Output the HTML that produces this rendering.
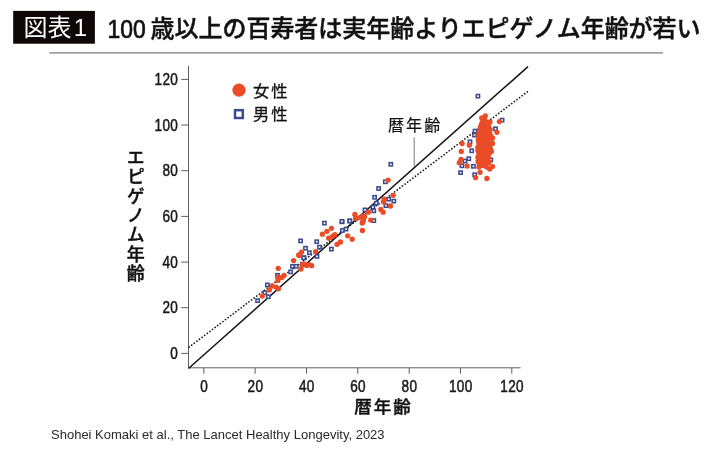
<!DOCTYPE html>
<html lang="ja">
<head>
<meta charset="utf-8">
<title>図表1 100歳以上の百寿者は実年齢よりエピゲノム年齢が若い</title>
<style>
html,body{margin:0;padding:0;background:#fff;}
body{width:710px;height:449px;overflow:hidden;position:relative;}
svg{position:absolute;left:0;top:0;display:block;}
text{font-family:"Liberation Sans","Noto Sans CJK JP",sans-serif;}
.jp{font-family:"Liberation Sans","Noto Sans CJK JP",sans-serif;}
.tick{font-size:15.8px;fill:#1a1a1a;stroke:#1a1a1a;stroke-width:0.5px;}
</style>
</head>
<body>
<svg width="710" height="449" viewBox="0 0 710 449">
<rect x="0" y="0" width="710" height="449" fill="#ffffff"/>
<!-- header -->
<rect x="13.2" y="10.9" width="81.7" height="32.8" fill="#0f0707"/>
<text x="23.6" y="36.3" font-size="24" fill="#ffffff" class="jp">図表<tspan dx="2.2">1</tspan></text>
<text x="107.6" y="38" font-size="25" font-weight="400" fill="#111111" stroke="#111111" stroke-width="0.7" class="jp" textLength="38.2" lengthAdjust="spacingAndGlyphs">100</text>
<text x="150.6" y="37.1" font-size="24" font-weight="500" fill="#111111" stroke="#111111" stroke-width="0.45" letter-spacing="-0.04" class="jp">歳以上の百寿者は実年齢よりエピゲノム年齢が若い</text>
<rect x="49.3" y="52.2" width="613.7" height="1.35" fill="#858585"/>

<g stroke="#4d4d4d" stroke-width="0.9" fill="none">
<path d="M188.5 66 V367.8 H520.6"/>
<path d="M181.2 353.4 H188.5"/>
<path d="M203.8 367.8 V373.8"/>
<path d="M181.2 307.7 H188.5"/>
<path d="M255.1 367.8 V373.8"/>
<path d="M181.2 262.1 H188.5"/>
<path d="M306.5 367.8 V373.8"/>
<path d="M181.2 216.4 H188.5"/>
<path d="M357.8 367.8 V373.8"/>
<path d="M181.2 170.7 H188.5"/>
<path d="M409.2 367.8 V373.8"/>
<path d="M181.2 125.0 H188.5"/>
<path d="M460.5 367.8 V373.8"/>
<path d="M181.2 79.4 H188.5"/>
<path d="M511.8 367.8 V373.8"/>
</g>
<text class="tick" transform="translate(178.2,359.1) scale(0.86,1)" text-anchor="end" letter-spacing="0.4">0</text>
<text class="tick" transform="translate(178.2,313.4) scale(0.86,1)" text-anchor="end" letter-spacing="0.4">20</text>
<text class="tick" transform="translate(178.2,267.8) scale(0.86,1)" text-anchor="end" letter-spacing="0.4">40</text>
<text class="tick" transform="translate(178.2,222.1) scale(0.86,1)" text-anchor="end" letter-spacing="0.4">60</text>
<text class="tick" transform="translate(178.2,176.4) scale(0.86,1)" text-anchor="end" letter-spacing="0.4">80</text>
<text class="tick" transform="translate(178.2,130.7) scale(0.86,1)" text-anchor="end" letter-spacing="0.4">100</text>
<text class="tick" transform="translate(178.2,85.1) scale(0.86,1)" text-anchor="end" letter-spacing="0.4">120</text>
<text class="tick" transform="translate(204.1,392.3) scale(0.86,1)" text-anchor="middle" letter-spacing="0.4">0</text>
<text class="tick" transform="translate(255.4,392.3) scale(0.86,1)" text-anchor="middle" letter-spacing="0.4">20</text>
<text class="tick" transform="translate(306.8,392.3) scale(0.86,1)" text-anchor="middle" letter-spacing="0.4">40</text>
<text class="tick" transform="translate(358.1,392.3) scale(0.86,1)" text-anchor="middle" letter-spacing="0.4">60</text>
<text class="tick" transform="translate(409.5,392.3) scale(0.86,1)" text-anchor="middle" letter-spacing="0.4">80</text>
<text class="tick" transform="translate(460.8,392.3) scale(0.86,1)" text-anchor="middle" letter-spacing="0.4">100</text>
<text class="tick" transform="translate(512.1,392.3) scale(0.86,1)" text-anchor="middle" letter-spacing="0.4">120</text>
<path d="M188.5 368.5 L528 66.6" stroke="#111" stroke-width="1.5" fill="none"/>
<path d="M189.1 347.1 L527.6 91.6" stroke="#111" stroke-width="1.7" stroke-linecap="round" stroke-dasharray="0.01 3.25" fill="none"/>
<path d="M414.2 137.3 V166.5" stroke="#555" stroke-width="0.8" fill="none"/>
<g fill="#fff" stroke="#3c4b8f" stroke-width="1.55">
<rect x="255.98" y="298.98" width="3.25" height="3.25"/>
<rect x="266.68" y="295.08" width="3.25" height="3.25"/>
<rect x="263.28" y="291.08" width="3.25" height="3.25"/>
<rect x="265.78" y="283.28" width="3.25" height="3.25"/>
<rect x="275.88" y="273.68" width="3.25" height="3.25"/>
<rect x="288.98" y="270.28" width="3.25" height="3.25"/>
<rect x="290.88" y="264.68" width="3.25" height="3.25"/>
<rect x="294.58" y="264.68" width="3.25" height="3.25"/>
<rect x="302.38" y="256.18" width="3.25" height="3.25"/>
<rect x="315.38" y="254.78" width="3.25" height="3.25"/>
<rect x="298.98" y="239.28" width="3.25" height="3.25"/>
<rect x="303.88" y="246.58" width="3.25" height="3.25"/>
<rect x="307.78" y="251.08" width="3.25" height="3.25"/>
<rect x="302.18" y="256.18" width="3.25" height="3.25"/>
<rect x="315.08" y="240.08" width="3.25" height="3.25"/>
<rect x="317.88" y="245.48" width="3.25" height="3.25"/>
<rect x="322.78" y="221.48" width="3.25" height="3.25"/>
<rect x="329.78" y="247.48" width="3.25" height="3.25"/>
<rect x="340.48" y="220.18" width="3.25" height="3.25"/>
<rect x="340.78" y="228.88" width="3.25" height="3.25"/>
<rect x="344.38" y="227.48" width="3.25" height="3.25"/>
<rect x="348.08" y="219.28" width="3.25" height="3.25"/>
<rect x="383.68" y="180.18" width="3.25" height="3.25"/>
<rect x="376.98" y="186.88" width="3.25" height="3.25"/>
<rect x="372.98" y="195.68" width="3.25" height="3.25"/>
<rect x="374.68" y="201.58" width="3.25" height="3.25"/>
<rect x="371.28" y="205.48" width="3.25" height="3.25"/>
<rect x="363.38" y="208.28" width="3.25" height="3.25"/>
<rect x="372.18" y="209.18" width="3.25" height="3.25"/>
<rect x="372.18" y="218.98" width="3.25" height="3.25"/>
<rect x="387.08" y="197.58" width="3.25" height="3.25"/>
<rect x="392.18" y="199.48" width="3.25" height="3.25"/>
<rect x="384.28" y="203.98" width="3.25" height="3.25"/>
<rect x="340.28" y="219.78" width="3.25" height="3.25"/>
<rect x="348.18" y="219.38" width="3.25" height="3.25"/>
<rect x="472.88" y="133.48" width="3.25" height="3.25"/>
<rect x="473.38" y="129.48" width="3.25" height="3.25"/>
<rect x="468.38" y="140.18" width="3.25" height="3.25"/>
<rect x="470.08" y="149.18" width="3.25" height="3.25"/>
<rect x="467.18" y="157.08" width="3.25" height="3.25"/>
<rect x="463.28" y="159.38" width="3.25" height="3.25"/>
<rect x="460.28" y="164.18" width="3.25" height="3.25"/>
<rect x="471.78" y="164.68" width="3.25" height="3.25"/>
<rect x="458.98" y="170.98" width="3.25" height="3.25"/>
<rect x="473.08" y="173.18" width="3.25" height="3.25"/>
<rect x="489.18" y="158.28" width="3.25" height="3.25"/>
<rect x="500.48" y="118.48" width="3.25" height="3.25"/>
<rect x="493.88" y="127.18" width="3.25" height="3.25"/>
<rect x="476.28" y="94.48" width="3.25" height="3.25"/>
<rect x="389.18" y="162.68" width="3.25" height="3.25"/>
</g>
<g fill="#e94c27">
<circle cx="262.3" cy="296.1" r="2.65"/>
<circle cx="269.4" cy="289.9" r="2.65"/>
<circle cx="272.2" cy="286" r="2.65"/>
<circle cx="276.2" cy="287.1" r="2.65"/>
<circle cx="278.4" cy="288.8" r="2.65"/>
<circle cx="277.9" cy="280.4" r="2.65"/>
<circle cx="277.9" cy="277.5" r="2.65"/>
<circle cx="281.8" cy="277.5" r="2.65"/>
<circle cx="284.1" cy="275.3" r="2.65"/>
<circle cx="278.2" cy="268.3" r="2.65"/>
<circle cx="293.6" cy="260.6" r="2.65"/>
<circle cx="302.1" cy="265.1" r="2.65"/>
<circle cx="301" cy="269.1" r="2.65"/>
<circle cx="306.6" cy="265.4" r="2.65"/>
<circle cx="311.7" cy="265.7" r="2.65"/>
<circle cx="299.3" cy="255.6" r="2.65"/>
<circle cx="298.7" cy="255" r="2.65"/>
<circle cx="301.5" cy="252.2" r="2.65"/>
<circle cx="315.6" cy="251.6" r="2.65"/>
<circle cx="303.8" cy="264" r="2.65"/>
<circle cx="309.4" cy="264.6" r="2.65"/>
<circle cx="322.4" cy="234.2" r="2.65"/>
<circle cx="326.9" cy="231.3" r="2.65"/>
<circle cx="331.4" cy="228.3" r="2.65"/>
<circle cx="328.6" cy="238.1" r="2.65"/>
<circle cx="332.5" cy="236.4" r="2.65"/>
<circle cx="334.8" cy="234.7" r="2.65"/>
<circle cx="337" cy="244.3" r="2.65"/>
<circle cx="340.4" cy="242" r="2.65"/>
<circle cx="347.7" cy="235.8" r="2.65"/>
<circle cx="352.2" cy="239.2" r="2.65"/>
<circle cx="362.4" cy="230.5" r="2.65"/>
<circle cx="362.9" cy="221.8" r="2.65"/>
<circle cx="355.6" cy="218.4" r="2.65"/>
<circle cx="360.1" cy="217.3" r="2.65"/>
<circle cx="364.6" cy="216.7" r="2.65"/>
<circle cx="388.1" cy="180.1" r="2.65"/>
<circle cx="393.2" cy="195.3" r="2.65"/>
<circle cx="384.2" cy="199.2" r="2.65"/>
<circle cx="383.6" cy="202" r="2.65"/>
<circle cx="390.4" cy="206" r="2.65"/>
<circle cx="380.8" cy="209.4" r="2.65"/>
<circle cx="383.1" cy="212.2" r="2.65"/>
<circle cx="354.9" cy="214.4" r="2.65"/>
<circle cx="356" cy="218.4" r="2.65"/>
<circle cx="362.8" cy="216.1" r="2.65"/>
<circle cx="368.4" cy="212.2" r="2.65"/>
<circle cx="363.4" cy="220.1" r="2.65"/>
<circle cx="370.7" cy="220.1" r="2.65"/>
<circle cx="362.2" cy="222.9" r="2.65"/>
<circle cx="462.1" cy="143.5" r="2.65"/>
<circle cx="469.4" cy="145.2" r="2.65"/>
<circle cx="461.3" cy="151.4" r="2.65"/>
<circle cx="461" cy="159.3" r="2.65"/>
<circle cx="459.3" cy="162.7" r="2.65"/>
<circle cx="467.2" cy="166" r="2.65"/>
<circle cx="497" cy="132.3" r="2.65"/>
<circle cx="492.5" cy="137.9" r="2.65"/>
<circle cx="492.5" cy="143.5" r="2.65"/>
<circle cx="491.4" cy="151.4" r="2.65"/>
<circle cx="492.5" cy="166.6" r="2.65"/>
<circle cx="489.7" cy="168.9" r="2.65"/>
<circle cx="480.1" cy="172.3" r="2.65"/>
<circle cx="475.6" cy="177.6" r="2.65"/>
<circle cx="486.9" cy="178.5" r="2.65"/>
<circle cx="485.3" cy="115.8" r="2.65"/>
<circle cx="481.8" cy="117.9" r="2.65"/>
<circle cx="484.6" cy="119.2" r="2.65"/>
<circle cx="482.6" cy="121.8" r="2.65"/>
<circle cx="486.3" cy="122.2" r="2.65"/>
<circle cx="490" cy="122" r="2.65"/>
<circle cx="499.4" cy="121.6" r="2.65"/>
<circle cx="481.5" cy="123.8" r="2.65"/>
<circle cx="484.5" cy="123.6" r="2.65"/>
<circle cx="486.7" cy="124.2" r="2.65"/>
<circle cx="488.0" cy="124.5" r="2.65"/>
<circle cx="480.4" cy="127.0" r="2.65"/>
<circle cx="483.1" cy="126.3" r="2.65"/>
<circle cx="486.4" cy="127.8" r="2.65"/>
<circle cx="488.5" cy="126.5" r="2.65"/>
<circle cx="480.9" cy="130.6" r="2.65"/>
<circle cx="483.7" cy="129.5" r="2.65"/>
<circle cx="487.4" cy="128.8" r="2.65"/>
<circle cx="490.1" cy="129.3" r="2.65"/>
<circle cx="479.4" cy="131.5" r="2.65"/>
<circle cx="482.1" cy="132.9" r="2.65"/>
<circle cx="484.2" cy="132.5" r="2.65"/>
<circle cx="487.5" cy="132.0" r="2.65"/>
<circle cx="489.7" cy="131.4" r="2.65"/>
<circle cx="478.7" cy="134.3" r="2.65"/>
<circle cx="482.5" cy="134.8" r="2.65"/>
<circle cx="484.3" cy="135.1" r="2.65"/>
<circle cx="487.2" cy="134.5" r="2.65"/>
<circle cx="490.4" cy="135.3" r="2.65"/>
<circle cx="478.7" cy="137.6" r="2.65"/>
<circle cx="482.0" cy="138.3" r="2.65"/>
<circle cx="485.1" cy="137.1" r="2.65"/>
<circle cx="488.3" cy="136.7" r="2.65"/>
<circle cx="489.8" cy="138.0" r="2.65"/>
<circle cx="478.2" cy="140.1" r="2.65"/>
<circle cx="480.8" cy="140.4" r="2.65"/>
<circle cx="485.1" cy="140.2" r="2.65"/>
<circle cx="488.1" cy="139.7" r="2.65"/>
<circle cx="490.6" cy="140.3" r="2.65"/>
<circle cx="478.9" cy="142.6" r="2.65"/>
<circle cx="482.3" cy="143.6" r="2.65"/>
<circle cx="484.3" cy="143.0" r="2.65"/>
<circle cx="486.3" cy="143.1" r="2.65"/>
<circle cx="490.3" cy="143.7" r="2.65"/>
<circle cx="479.3" cy="144.9" r="2.65"/>
<circle cx="481.2" cy="145.6" r="2.65"/>
<circle cx="483.3" cy="145.2" r="2.65"/>
<circle cx="486.4" cy="144.5" r="2.65"/>
<circle cx="489.0" cy="145.8" r="2.65"/>
<circle cx="477.8" cy="147.4" r="2.65"/>
<circle cx="481.1" cy="148.6" r="2.65"/>
<circle cx="483.3" cy="147.8" r="2.65"/>
<circle cx="487.0" cy="148.7" r="2.65"/>
<circle cx="490.4" cy="148.6" r="2.65"/>
<circle cx="478.0" cy="150.3" r="2.65"/>
<circle cx="480.9" cy="151.3" r="2.65"/>
<circle cx="484.9" cy="149.8" r="2.65"/>
<circle cx="486.1" cy="150.0" r="2.65"/>
<circle cx="489.0" cy="150.5" r="2.65"/>
<circle cx="478.7" cy="152.6" r="2.65"/>
<circle cx="480.2" cy="152.9" r="2.65"/>
<circle cx="483.6" cy="153.2" r="2.65"/>
<circle cx="487.5" cy="153.5" r="2.65"/>
<circle cx="489.3" cy="153.3" r="2.65"/>
<circle cx="479.0" cy="154.8" r="2.65"/>
<circle cx="482.0" cy="156.3" r="2.65"/>
<circle cx="484.6" cy="156.3" r="2.65"/>
<circle cx="486.2" cy="155.5" r="2.65"/>
<circle cx="488.2" cy="156.0" r="2.65"/>
<circle cx="477.9" cy="157.4" r="2.65"/>
<circle cx="480.7" cy="157.6" r="2.65"/>
<circle cx="483.4" cy="157.4" r="2.65"/>
<circle cx="485.3" cy="157.6" r="2.65"/>
<circle cx="488.0" cy="158.0" r="2.65"/>
<circle cx="478.0" cy="161.6" r="2.65"/>
<circle cx="481.5" cy="160.2" r="2.65"/>
<circle cx="483.2" cy="160.6" r="2.65"/>
<circle cx="485.8" cy="160.1" r="2.65"/>
<circle cx="489.1" cy="161.9" r="2.65"/>
<circle cx="479.2" cy="163.5" r="2.65"/>
<circle cx="481.3" cy="162.7" r="2.65"/>
<circle cx="484.7" cy="163.0" r="2.65"/>
<circle cx="488.6" cy="162.8" r="2.65"/>
<circle cx="478.9" cy="167.0" r="2.65"/>
<circle cx="482.2" cy="165.4" r="2.65"/>
<circle cx="484.5" cy="165.2" r="2.65"/>
<circle cx="486.7" cy="167.1" r="2.65"/>
</g>
<circle cx="239" cy="90.2" r="6.6" fill="#e94c27"/>
<rect x="235" y="110.2" width="7.8" height="7.8" fill="#fff" stroke="#3c4b8f" stroke-width="2.5"/>
<text x="253" y="96.5" font-size="16.3" fill="#111" stroke="#111" stroke-width="0.3" class="jp" letter-spacing="2">女性</text>
<text x="253" y="120.3" font-size="16.3" fill="#111" stroke="#111" stroke-width="0.3" class="jp" letter-spacing="2">男性</text>
<text x="388" y="130.9" font-size="16" fill="#111" stroke="#111" stroke-width="0.2" class="jp" letter-spacing="2.1">暦年齢</text>
<text x="354.2" y="413.4" font-size="17.5" font-weight="500" fill="#111" stroke="#111" stroke-width="0.4" class="jp" letter-spacing="2.0">暦年齢</text>
<text x="133.8" y="148" font-size="18" font-weight="500" fill="#111" stroke="#111" stroke-width="0.4" class="jp" style="writing-mode:vertical-rl;text-orientation:upright" letter-spacing="1.4">エピゲノム年齢</text>
<text x="51" y="439" font-size="13.2" fill="#2a2a2a" textLength="333.6" lengthAdjust="spacingAndGlyphs">Shohei Komaki et al., The Lancet Healthy Longevity, 2023</text>
</svg>
</body>
</html>
